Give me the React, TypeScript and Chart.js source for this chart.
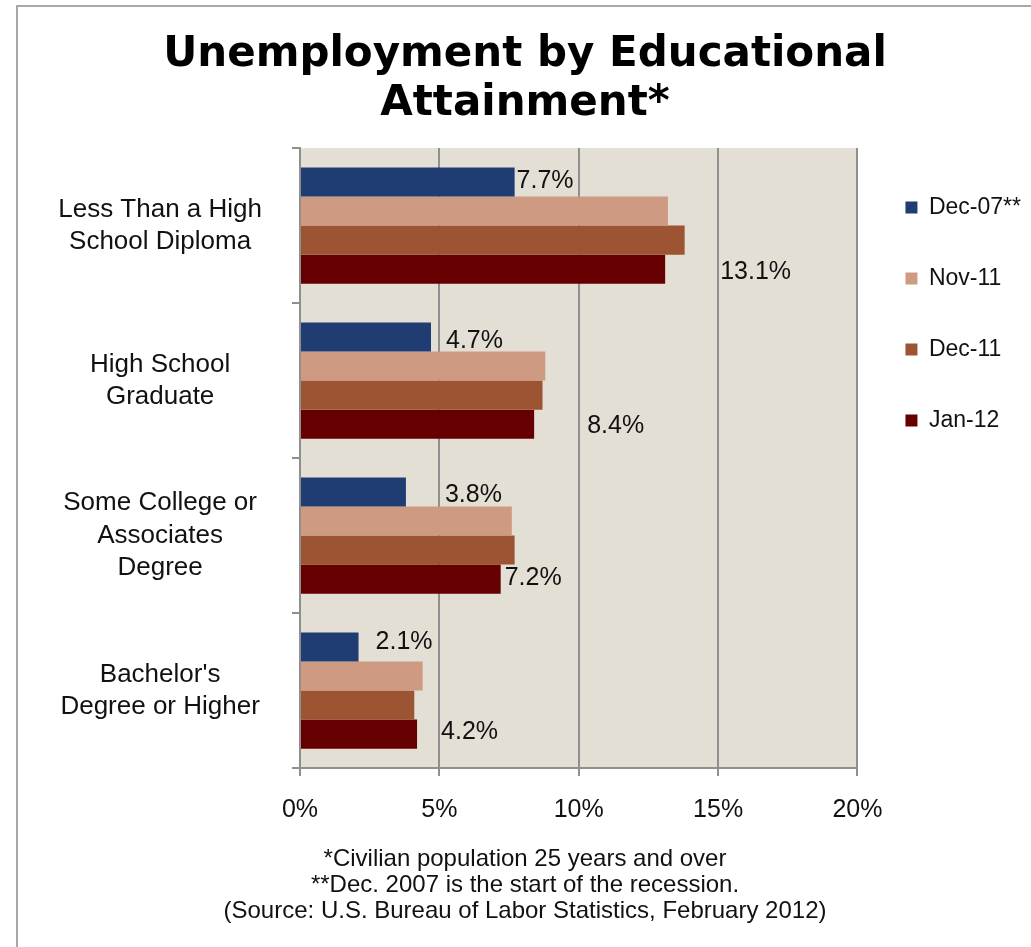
import React, { useEffect, useRef } from 'react';
import { Chart, registerables } from 'chart.js';

Chart.register(...registerables);

// ---- data ----
const categories: string[][] = [
  ['Less Than a High', 'School Diploma'],
  ['High School', 'Graduate'],
  ['Some College or', 'Associates', 'Degree'],
  ["Bachelor's", 'Degree or Higher'],
];
const seriesNames = ['Dec-07**', 'Nov-11', 'Dec-11', 'Jan-12'];
const dec07 = [7.7, 4.7, 3.8, 2.1];
const nov11 = [13.2, 8.8, 7.6, 4.4];
const dec11 = [13.8, 8.7, 7.7, 4.1];
const jan12 = [13.1, 8.4, 7.2, 4.2];
const xTicks = [0, 5, 10, 15, 20];
const titleLines = ['Unemployment by Educational', 'Attainment*'];
const footnoteLines = [
  '*Civilian population 25 years and over',
  '**Dec. 2007 is the start of the recession.',
  '(Source: U.S. Bureau of Labor Statistics, February 2012)',
];

// ---- styles ----
const seriesData = [dec07, nov11, dec11, jan12];
const seriesColors = ['#1f3d72', '#cf9a82', '#9c5433', '#660000'];
const plotBg = '#e3dfd4';
const gridColor = '#8f8f8f';
const textFont = 'Liberation Sans';
// value labels: which series get labels, and pixel nudges from the bar end
const labelSpecs = [
  { series: 0, dx: [2, 15, 39, 17], dy: [-1, 4, 3, -5] },
  { series: 3, dx: [55, 53, 4, 24], dy: [3, 2, -1, -2] },
];

const backgroundPlugin = {
  id: 'bgFrame',
  beforeDraw(chart: any) {
    const { ctx, chartArea } = chart;
    ctx.save();
    ctx.fillStyle = '#ffffff';
    ctx.fillRect(0, 0, chart.width, chart.height);
    ctx.strokeStyle = '#a8a8a8';
    ctx.lineWidth = 2;
    ctx.strokeRect(17, 6, 3000, 3000);
    ctx.fillStyle = plotBg;
    ctx.fillRect(chartArea.left, chartArea.top, chartArea.right - chartArea.left, chartArea.bottom - chartArea.top);
    ctx.restore();
  },
};

const valueLabelPlugin = {
  id: 'valueLabels',
  afterDatasetsDraw(chart: any) {
    const { ctx } = chart;
    ctx.save();
    ctx.font = `25px "${textFont}"`;
    ctx.fillStyle = '#111111';
    ctx.textAlign = 'left';
    ctx.textBaseline = 'middle';
    labelSpecs.forEach((spec) => {
      const meta = chart.getDatasetMeta(spec.series);
      meta.data.forEach((el: any, i: number) => {
        const v = chart.data.datasets[spec.series].data[i];
        ctx.fillText(`${v}%`, el.x + spec.dx[i], el.y + spec.dy[i]);
      });
    });
    ctx.restore();
  },
};

export default function App() {
  const ref = useRef<HTMLCanvasElement>(null);
  useEffect(() => {
    const canvas = ref.current!;
    const chart = new Chart(canvas, {
      type: 'bar',
      data: {
        labels: categories,
        datasets: seriesNames.map((name, i) => ({
          label: name,
          data: seriesData[i],
          backgroundColor: seriesColors[i],
          borderWidth: 0,
          categoryPercentage: 0.75,
          barPercentage: 1,
        })),
      },
      options: {
        indexAxis: 'y',
        responsive: false,
        animation: false,
        layout: { padding: { left: 19, right: 0, top: 0, bottom: 0 } },
        plugins: {
          title: {
            display: true,
            text: titleLines,
            color: '#000000',
            font: { family: 'DejaVu Sans', weight: 'bold', size: 42, lineHeight: 1.18 },
            padding: { top: 30, bottom: 19 },
          },
          subtitle: {
            display: true,
            position: 'bottom',
            text: footnoteLines,
            color: '#111111',
            font: { family: textFont, size: 24, lineHeight: 1.083 },
            padding: { top: 2, bottom: 23 },
          },
          legend: {
            position: 'right',
            align: 'start',
            fullSize: false,
            labels: {
              color: '#111111',
              font: { family: textFont, size: 23 },
              boxWidth: 12,
              boxHeight: 12,
              padding: 48,
            },
          },
          tooltip: { enabled: false },
        },
        scales: {
          x: {
            min: 0,
            max: 20,
            afterBuildTicks: (scale: any) => {
              scale.ticks = xTicks.map((v) => ({ value: v }));
            },
            ticks: {
              callback: (v: any) => `${v}%`,
              color: '#111111',
              font: { family: textFont, size: 25 },
              padding: 19,
              maxRotation: 0,
            },
            grid: { color: gridColor, lineWidth: 2, tickLength: 8 },
            border: { display: true, color: gridColor, width: 2 },
          },
          y: {
            afterFit: (scale: any) => {
              scale.width += 28;
            },
            ticks: {
              crossAlign: 'center',
              color: '#111111',
              font: { family: textFont, size: 26, lineHeight: 1.24 },
              padding: 30,
            },
            grid: { drawOnChartArea: false, color: gridColor, lineWidth: 2, tickLength: 8 },
            border: { display: true, color: gridColor, width: 2 },
          },
        },
      } as any,
      plugins: [backgroundPlugin, valueLabelPlugin],
    });
    return () => chart.destroy();
  }, []);

  return (
    <div style={{ position: 'fixed', left: 0, top: 0, width: 1031, height: 947, background: '#fff' }}>
      <canvas ref={ref} width={1031} height={947} style={{ width: 1031, height: 947, display: 'block' }} />
    </div>
  );
}
